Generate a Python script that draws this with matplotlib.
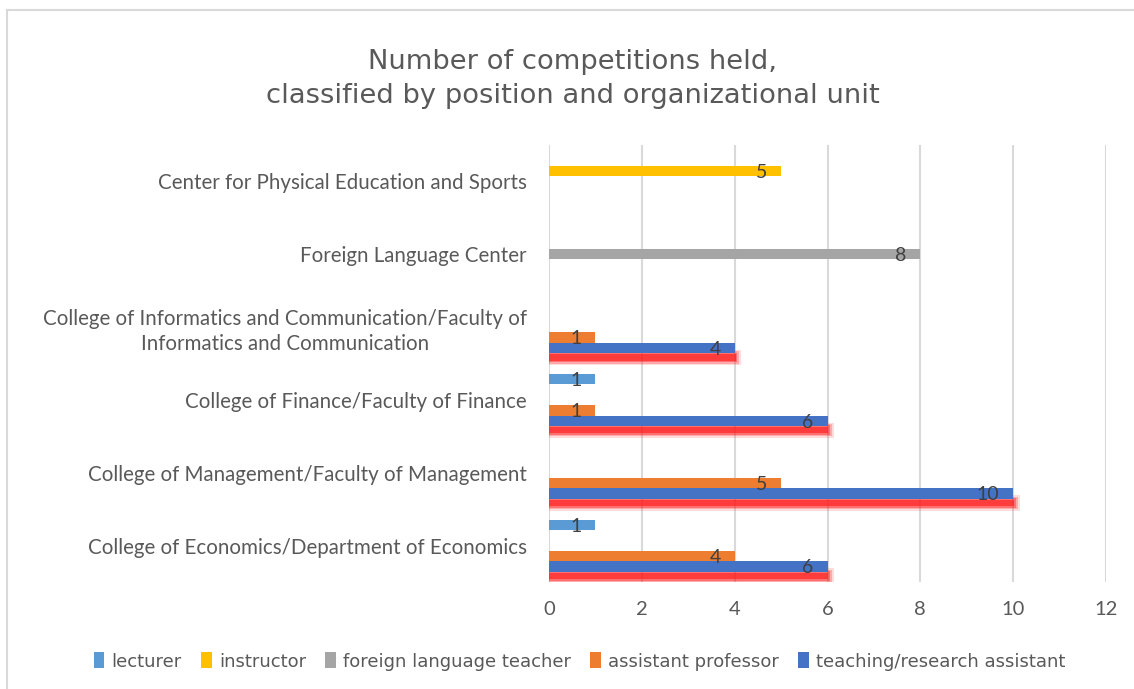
import numpy as np
import matplotlib
matplotlib.use('Agg')
import matplotlib.pyplot as plt
from matplotlib.patches import Patch
from matplotlib.lines import Line2D

# data (bottom -> top, as in the chart)
categories = [
    'College of Economics/Department of Economics',
    'College of Management/Faculty of Management',
    'College of Finance/Faculty of Finance',
    'College of Informatics and Communication/Faculty of\nInformatics and Communication',
    'Foreign Language Center',
    'Center for Physical Education and Sports',
]
nan = np.nan
teaching = [6, 10, 6, 4, nan, nan]
asst_prof = [4, 5, 1, 1, nan, nan]
foreign_teacher = [nan, nan, nan, nan, 8, nan]
instructor = [nan, nan, nan, nan, nan, 5]
lecturer = [1, nan, 1, nan, nan, nan]

series = [
    ('teaching/research assistant', teaching, '#4472C4'),
    ('assistant professor', asst_prof, '#ED7D31'),
    ('foreign language teacher', foreign_teacher, '#A5A5A5'),
    ('instructor', instructor, '#FFC000'),
    ('lecturer', lecturer, '#5B9BD5'),
]

TXT = '#595959'
LBL = '#404040'
lab_font = 'Lato'

fig = plt.figure(figsize=(11.34, 6.89), dpi=100)
ax = fig.add_axes([549 / 1134, 1 - 582 / 689, 557 / 1134, 437 / 689])

y = np.arange(len(categories))
h = 0.143

# red glow under teaching/research assistant bars
tv = np.array(teaching, dtype=float)
for hh, a, ext in [(0.21, 0.15, 0.14), (0.17, 0.25, 0.10), (0.13, 0.4, 0.06), (0.09, 0.6, 0.02)]:
    ax.barh(y - 2 * h - 0.13, np.where(np.isnan(tv), np.nan, tv + ext), height=hh,
            color='#FF1A1A', alpha=a, linewidth=0, zorder=2)

for k, (name, vals, col) in enumerate(series):
    pos = y + (k - 2) * h
    ax.barh(pos, vals, height=h, color=col, linewidth=0, zorder=3)
    for yy, v in zip(pos, vals):
        if np.isnan(v):
            continue
        ax.annotate(str(int(v)), (v, yy), xytext=(-10, -1), textcoords='offset points',
                    ha='right', va='center', fontsize=14, color=LBL,
                    family=lab_font, zorder=5)

ax.set_xlim(0, 12)
ax.set_ylim(-0.5, len(categories) - 0.5)
ax.set_xticks(range(0, 13, 2))
ax.set_yticks(y)
ax.set_yticklabels(categories, fontsize=14.8, color=TXT, family=lab_font,
                   multialignment='center', linespacing=1.3)
ax.tick_params(axis='y', length=0, pad=16)
ax.tick_params(axis='x', length=0, labelsize=14.5, labelcolor=TXT, pad=14)
for t in ax.get_xticklabels():
    t.set_family(lab_font)
ax.grid(axis='x', color='#D9D9D9', linewidth=1.5, zorder=0)
ax.set_axisbelow(True)
for s in ax.spines.values():
    s.set_visible(False)

fig.text(0.505, 0.885, 'Number of competitions held,\nclassified by position and organizational unit',
         ha='center', va='center', fontsize=19.7, color=TXT, linespacing=1.38,
         family='DejaVu Sans')

order = [4, 3, 2, 1, 0]
handles = [Patch(facecolor=series[i][2], edgecolor='none') for i in order]
labels = [series[i][0] for i in order]
fig.legend(handles, labels, loc='center', bbox_to_anchor=(0.511, 0.040), ncol=5,
           frameon=False, handlelength=0.6, handleheight=1.0,
           handletextpad=0.4, columnspacing=1.05,
           prop={'family': 'DejaVu Sans', 'size': 13}, labelcolor=TXT)

# outer chart border (left and top edges visible)
fig.add_artist(Line2D([7 / 1134, 7 / 1134], [0, 1 - 10 / 689], color='#D9D9D9',
                      linewidth=1.5, transform=fig.transFigure))
fig.add_artist(Line2D([7 / 1134, 1], [1 - 10 / 689, 1 - 10 / 689], color='#D9D9D9',
                      linewidth=1.5, transform=fig.transFigure))

fig.savefig('out.png', dpi=100)
